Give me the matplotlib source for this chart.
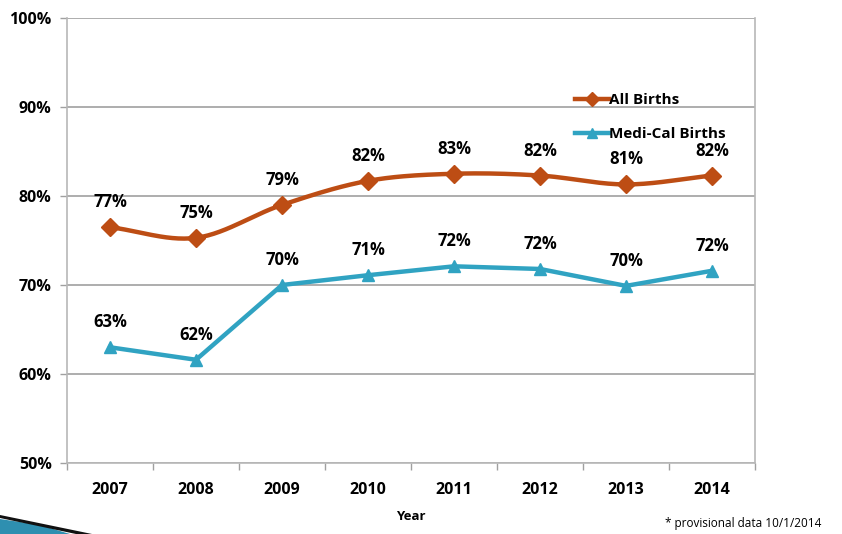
import numpy as np
import matplotlib
matplotlib.use("Agg")
import matplotlib.pyplot as plt
from matplotlib.patches import Polygon
from matplotlib.lines import Line2D

years = ["2007", "2008", "2009", "2010", "2011", "2012", "2013", "2014"]
all_births = [76.5, 75.3, 79.0, 81.7, 82.5, 82.3, 81.3, 82.3]
all_labels = ["77%", "75%", "79%", "82%", "83%", "82%", "81%", "82%"]
medi_cal = [63.0, 61.6, 70.0, 71.1, 72.1, 71.8, 69.9, 71.6]
medi_labels = ["63%", "62%", "70%", "71%", "72%", "72%", "70%", "72%"]
y_ticks = [50, 60, 70, 80, 90, 100]

ORANGE = "#BD4D14"
TEAL = "#30A3C2"
FONT = "Open Sans"

plt.rcParams["font.family"] = [FONT, "DejaVu Sans"]

fig = plt.figure(figsize=(8.42, 5.34), dpi=100)
ax = fig.add_axes([67 / 842, 1 - 463 / 534, (755 - 67) / 842, (463 - 18) / 534])

x = np.arange(len(years))


def catmull_rom(xs, ys, n=30):
    px = np.concatenate([[2 * xs[0] - xs[1]], xs, [2 * xs[-1] - xs[-2]]])
    py = np.concatenate([[2 * ys[0] - ys[1]], ys, [2 * ys[-1] - ys[-2]]])
    ox, oy = [], []
    for i in range(1, len(px) - 2):
        t = np.linspace(0, 1, n)
        for arr, out in ((px, ox), (py, oy)):
            p0, p1, p2, p3 = arr[i - 1], arr[i], arr[i + 1], arr[i + 2]
            out.extend(0.5 * ((2 * p1) + (-p0 + p2) * t
                              + (2 * p0 - 5 * p1 + 4 * p2 - p3) * t ** 2
                              + (-p0 + 3 * p1 - 3 * p2 + p3) * t ** 3))
    return np.array(ox), np.array(oy)


sx, sy = catmull_rom(x.astype(float), np.array(all_births, float))
ax.plot(sx, sy, color=ORANGE, lw=3.2, solid_capstyle="round", zorder=3)
ax.plot(x, all_births, linestyle="none", marker="D", ms=9, color=ORANGE, zorder=4)
ax.plot(x, medi_cal, color=TEAL, lw=3.2, marker="^", ms=8, zorder=3)

for xi, v, t in zip(x, all_births, all_labels):
    ax.annotate(t, (xi, v), xytext=(0, 18), textcoords="offset points",
                ha="center", va="center", fontsize=12, fontweight="bold")
for xi, v, t in zip(x, medi_cal, medi_labels):
    ax.annotate(t, (xi, v), xytext=(0, 18), textcoords="offset points",
                ha="center", va="center", fontsize=12, fontweight="bold")

ax.set_xlim(-0.5, len(years) - 0.5)
ax.set_ylim(50, 100)
ax.set_yticks(y_ticks)
ax.set_yticklabels([f"{v}%" for v in y_ticks], fontsize=11.5, fontweight="bold")
ax.set_xticks(x)
ax.set_xticklabels(years, fontsize=11.5, fontweight="bold")
ax.set_xticks(np.arange(-0.5, len(years)), minor=True)
ax.tick_params(axis="x", which="major", length=0, pad=14)
ax.tick_params(axis="x", which="minor", length=5, color="#A0A0A0", width=1)
ax.tick_params(axis="y", length=5, color="#A0A0A0", width=1, pad=6)

ax.grid(axis="y", color="#A0A0A0", lw=1.2)
ax.set_axisbelow(True)
for s in ["left", "bottom", "right"]:
    ax.spines[s].set_color("#B8B8B8")
    ax.spines[s].set_linewidth(1.2)
ax.spines["top"].set_visible(False)

ax.set_xlabel("Year", fontsize=9.5, fontweight="bold", labelpad=8)

handles = [Line2D([], [], color=ORANGE, lw=3.2, marker="D", ms=7),
           Line2D([], [], color=TEAL, lw=3.2, marker="^", ms=7)]
ax.legend(handles, ["All Births", "Medi-Cal Births"], loc="upper left",
          bbox_to_anchor=((575 - 67) / 688, 1 - (93 - 18) / 445), frameon=False,
          handlelength=2.2, handletextpad=0.05, labelspacing=1.3,
          borderaxespad=0, borderpad=0,
          prop={"family": FONT, "size": 11, "weight": "bold"})

fig.text(665 / 842, 1 - 524 / 534, "* provisional data 10/1/2014",
         fontsize=8.5, va="center", ha="left")

# decorative swoosh bottom-left
fig.patches.append(Polygon([(0, 1 - 519 / 534), (0, 0), (70 / 842, 0), (40 / 842, 1 - 525 / 534)],
                           closed=True, transform=fig.transFigure,
                           facecolor="#2E8FB0", edgecolor="none"))
fig.patches.append(Polygon([(0, 1 - 515 / 534), (92 / 842, 0), (76 / 842, 0), (0, 1 - 518 / 534)],
                           closed=True, transform=fig.transFigure,
                           facecolor="#111111", edgecolor="none"))

fig.savefig("out.png", dpi=100)
